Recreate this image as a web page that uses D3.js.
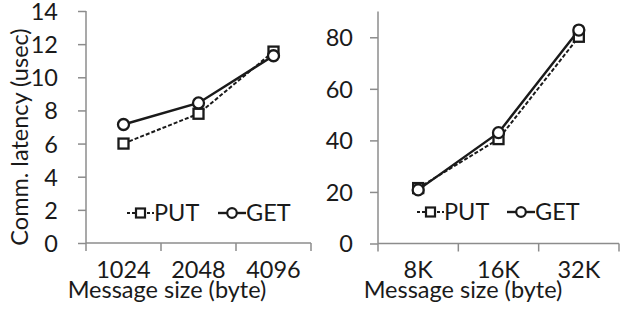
<!DOCTYPE html>
<html><head><meta charset="utf-8">
<script src="https://cdn.jsdelivr.net/npm/d3@7"></script>
<style>body{margin:0;background:#fff}svg{display:block}text{font-family:Lato,"Open Sans",sans-serif;fill:#1a1a1a}</style>
</head><body><svg id="c" width="620" height="309"></svg>
<script>
const leftCats = ["1024","2048","4096"];
const leftPut = [6.0, 7.8, 11.55];
const leftGet = [7.15, 8.45, 11.3];
const leftTicks = [0,2,4,6,8,10,12,14];
const rightCats = ["8K","16K","32K"];
const rightPut = [21.5, 40.5, 80.2];
const rightGet = [20.8, 43.0, 82.8];
const rightTicks = [0,20,40,60,80];
const seriesNames = ["PUT","GET"];
const xTitle = "Message size (byte)";
const yTitle = "Comm. latency (usec)";

const svg = d3.select("#c");
const FS = 23.5;

function panel(cfg){
  const g = svg.append("g");
  const x = d3.scaleBand().domain(cfg.cats).range([cfg.x0, cfg.x1]);
  const y = d3.scaleLinear().domain([0, cfg.ymax]).range([cfg.y0, cfg.y1]);
  const ya = g.append("g").attr("transform",`translate(${cfg.x0},0)`)
    .call(d3.axisLeft(y).tickValues(cfg.ticks).tickSize(8).tickPadding(cfg.pad).tickFormat(d3.format("d")));
  ya.select(".domain").attr("stroke","#8c8c8c").attr("stroke-width",1.5).attr("d",`M0,${cfg.y0}V${y(cfg.ymax)}`);
  ya.selectAll(".tick line").attr("stroke","#8c8c8c").attr("stroke-width",1.5);
  ya.selectAll(".tick text").attr("font-size",FS).attr("font-family","Lato").attr("fill","#1a1a1a").attr("dy","0.36em");
  const xa = g.append("g").attr("transform",`translate(0,${cfg.y0})`)
    .call(d3.axisBottom(x).tickSize(0).tickPadding(cfg.xpad));
  xa.select(".domain").attr("stroke","#8c8c8c").attr("stroke-width",1.5).attr("d",`M${cfg.x0},0H${cfg.x1}`);
  xa.selectAll(".tick text").attr("font-size",FS).attr("font-family","Lato").attr("fill","#1a1a1a");
  const edges = cfg.cats.map(c=>x(c)).concat([cfg.x1]);
  xa.selectAll(".sep").data(edges).enter().append("line").attr("class","sep")
    .attr("x1",d=>d).attr("x2",d=>d).attr("y1",0).attr("y2",8).attr("stroke","#8c8c8c").attr("stroke-width",1.5);
  const cx = c => x(c) + x.bandwidth()/2;
  const line = d3.line().x((d,i)=>cx(cfg.cats[i])).y(d=>y(d));
  g.append("path").datum(cfg.put).attr("d",line).attr("fill","none").attr("stroke","#1a1a1a").attr("stroke-width",2).attr("stroke-dasharray","4,2");
  g.append("path").datum(cfg.get).attr("d",line).attr("fill","none").attr("stroke","#1a1a1a").attr("stroke-width",2.4);
  g.selectAll(".sq").data(cfg.put).enter().append("rect").attr("x",(d,i)=>cx(cfg.cats[i])-5).attr("y",d=>y(d)-5)
    .attr("width",10).attr("height",10).attr("fill","#fff").attr("stroke","#1a1a1a").attr("stroke-width",2.3);
  g.selectAll(".ci").data(cfg.get).enter().append("circle").attr("cx",(d,i)=>cx(cfg.cats[i])).attr("cy",d=>y(d))
    .attr("r",5.5).attr("fill","#fff").attr("stroke","#1a1a1a").attr("stroke-width",2.3);
  const ly = cfg.ly, L = cfg.lx;
  g.append("line").attr("x1",L[0]).attr("x2",L[0]+27).attr("y1",ly).attr("y2",ly).attr("stroke","#1a1a1a").attr("stroke-width",2).attr("stroke-dasharray","3,2");
  g.append("rect").attr("x",L[0]+13.5-4.5).attr("y",ly-4.5).attr("width",9).attr("height",9).attr("fill","#fff").attr("stroke","#1a1a1a").attr("stroke-width",2.2);
  g.append("text").attr("x",L[0]+27).attr("y",ly).attr("dy","0.36em").attr("font-size",FS).text(seriesNames[0]);
  g.append("line").attr("x1",L[1]).attr("x2",L[1]+28).attr("y1",ly).attr("y2",ly).attr("stroke","#1a1a1a").attr("stroke-width",2.4);
  g.append("circle").attr("cx",L[1]+14).attr("cy",ly).attr("r",4.8).attr("fill","#fff").attr("stroke","#1a1a1a").attr("stroke-width",2.2);
  g.append("text").attr("x",L[1]+28).attr("y",ly).attr("dy","0.36em").attr("font-size",FS).text(seriesNames[1]);
  g.append("text").attr("x",cfg.xtx).attr("y",298).attr("text-anchor","middle").attr("font-size",FS).text(xTitle);
  if(cfg.ytitle){
    g.append("text").attr("transform",`translate(28,${(cfg.y0+y(cfg.ymax))/2+10}) rotate(-90)`).attr("text-anchor","middle").attr("font-size",FS).text(yTitle);
  }
}

panel({cats:leftCats,put:leftPut,get:leftGet,ticks:leftTicks,ymax:14,x0:86,x1:311,y0:243,y1:11,pad:20,xpad:18,
  ly:213,lx:[127,218],xtx:167,ytitle:true});
panel({cats:rightCats,put:rightPut,get:rightGet,ticks:rightTicks,ymax:90,x0:378,x1:619,y0:243.5,y1:11.5,pad:17,xpad:18,
  ly:212,lx:[417,507],xtx:463,ytitle:false});
</script></body></html>
